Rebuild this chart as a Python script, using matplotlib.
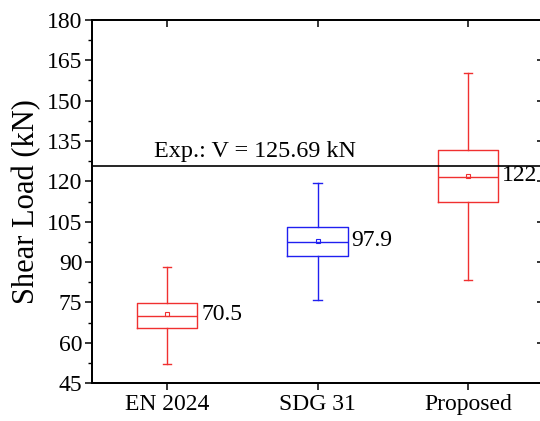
import matplotlib
matplotlib.use("Agg")
import matplotlib.pyplot as plt
from matplotlib.ticker import MultipleLocator

plt.rcParams['font.family'] = ['Liberation Serif', 'DejaVu Serif']

# Box statistics (kN)
categories = ["EN 2024", "SDG 31", "Proposed"]
whisker_low = [52.2, 75.9, 83.2]
q1 = [65.6, 92.1, 112.2]
median = [70.1, 97.4, 121.7]
q3 = [74.9, 102.9, 131.8]
whisker_high = [88.0, 119.2, 160.3]
mean = [70.5, 97.9, 122.0]
mean_labels = ["70.5", "97.9", "122"]
colors = ["#f03030", "#2020f0", "#f03030"]
exp_value = 125.69

fig = plt.figure(figsize=(5.40, 4.21), dpi=100)
ax = fig.add_axes([92 / 540, 1 - 383 / 421, (543 - 92) / 540, (383 - 20) / 421])

positions = [1, 2, 3]
for i, pos in enumerate(positions):
    stats = [dict(whislo=whisker_low[i], q1=q1[i], med=median[i], q3=q3[i],
                  whishi=whisker_high[i], mean=mean[i], fliers=[], label=categories[i])]
    c = colors[i]
    ax.bxp(stats, positions=[pos], widths=0.4, showmeans=True, showfliers=False,
           boxprops=dict(color=c, linewidth=1.0),
           medianprops=dict(color=c, linewidth=1.0),
           whiskerprops=dict(color=c, linewidth=1.0),
           capprops=dict(color=c, linewidth=1.0),
           capwidths=0.055,
           meanprops=dict(marker='s', markersize=3.2, markerfacecolor='none',
                          markeredgecolor=c, markeredgewidth=0.8))
    ax.annotate(mean_labels[i], xy=(pos + 0.2, mean[i]), xytext=(3, 0),
                textcoords='offset points', ha='left', va='center', fontsize=17)

ax.axhline(exp_value, color='black', linewidth=1.2)
ax.annotate("Exp.: V = 125.69 kN", xy=(0.91, exp_value), xytext=(0, 3),
            textcoords='offset points', ha='left', va='bottom', fontsize=17.4)

ax.set_xlim(0.5, 3.5)
ax.set_ylim(45, 180)
ax.set_xticks(positions)
ax.set_xticklabels(categories)
ax.yaxis.set_major_locator(MultipleLocator(15))
ax.yaxis.set_minor_locator(MultipleLocator(7.5))
ax.set_ylabel("Shear Load (kN)", fontsize=22, labelpad=4)

for s in ax.spines.values():
    s.set_linewidth(1.2)

ax.tick_params(axis='both', labelsize=17, width=1.1)
ax.tick_params(axis='x', which='major', direction='out', length=5, pad=3)
ax.tick_params(axis='y', which='major', direction='out', length=5, pad=2)
ax.tick_params(axis='y', which='minor', direction='out', length=3, width=1.0)

# Inward ticks on the top and right edges
ax_top = ax.twiny()
ax_top.set_xlim(ax.get_xlim())
ax_top.set_xticks(positions)
ax_top.set_xticklabels([])
ax_top.tick_params(axis='x', which='major', direction='in', length=5, width=1.1,
                   top=True, bottom=False)

ax_right = ax.twinx()
ax_right.set_ylim(ax.get_ylim())
ax_right.yaxis.set_major_locator(MultipleLocator(15))
ax_right.yaxis.set_minor_locator(MultipleLocator(7.5))
ax_right.set_yticklabels([])
ax_right.tick_params(axis='y', which='major', direction='in', length=4.5, width=1.1,
                     right=True, left=False)
ax_right.tick_params(axis='y', which='minor', length=0)

for a in (ax_top, ax_right):
    for s in a.spines.values():
        s.set_linewidth(1.2)

fig.savefig("out.png", dpi=100)
